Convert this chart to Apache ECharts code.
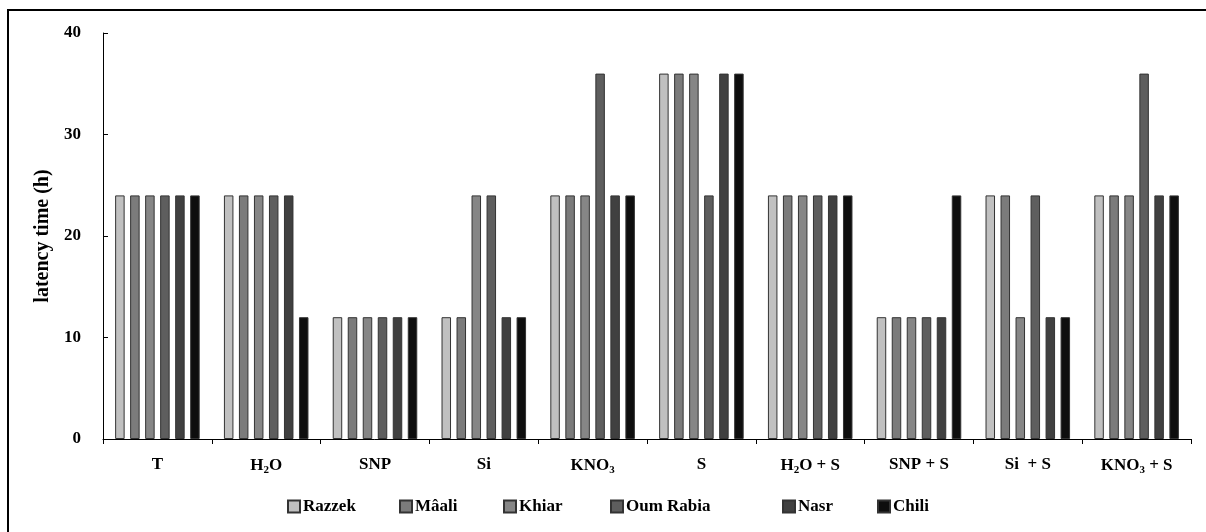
<!DOCTYPE html>
<html>
<head>
<meta charset="utf-8">
<script src="https://cdn.jsdelivr.net/npm/echarts@6/dist/echarts.min.js"></script>
<style>html,body{margin:0;padding:0;background:#fff}#c{width:1206px;height:532px}</style>
</head>
<body>
<div id="c"></div>
<script>
const categories = ['T', 'H2O', 'SNP', 'Si', 'KNO3', 'S', 'H2O + S', 'SNP + S', 'Si  + S', 'KNO3 + S'];
const seriesNames = ['Razzek', 'Mâali', 'Khiar', 'Oum Rabia', 'Nasr', 'Chili'];
const razzek   = [24, 24, 12, 12, 24, 36, 24, 12, 24, 24];
const maali    = [24, 24, 12, 12, 24, 36, 24, 12, 24, 24];
const khiar    = [24, 24, 12, 24, 24, 36, 24, 12, 12, 24];
const oumRabia = [24, 24, 12, 24, 36, 24, 24, 12, 24, 36];
const nasr     = [24, 24, 12, 12, 24, 36, 24, 12, 12, 24];
const chili    = [24, 12, 12, 12, 24, 36, 24, 24, 12, 24];
const yTicks = [0, 10, 20, 30, 40];

const values = [razzek, maali, khiar, oumRabia, nasr, chili];
const colors = ['#c0c0c0', '#7b7b7b', '#868686', '#5e5e5e', '#404040', '#0e0e0e'];
const legendLeft = [287, 399, 503, 610, 782, 877];
const FONT = '"Liberation Serif", "Times New Roman", serif';

const chart = echarts.init(document.getElementById('c'));
chart.setOption({
  backgroundColor: '#fff',
  animation: false,
  graphic: [{
    type: 'rect',
    shape: { x: 8, y: 10, width: 1400, height: 700 },
    style: { fill: 'none', stroke: '#000', lineWidth: 2 },
    silent: true
  }],
  legend: seriesNames.map((n, i) => ({
    data: [n],
    left: legendLeft[i],
    top: 498,
    padding: 0,
    itemWidth: 12,
    itemHeight: 12,
    itemGap: 4,
    icon: 'rect',
    textStyle: { fontFamily: FONT, fontWeight: 'bold', fontSize: 17, color: '#000', padding: [0, 0, 0, -2] }
  })),
  grid: { left: 103, right: 15, top: 33, bottom: 93, containLabel: false },
  xAxis: {
    type: 'category',
    data: categories,
    axisLine: { lineStyle: { color: '#000', width: 1 } },
    axisTick: { show: true, length: 5, lineStyle: { color: '#000' } },
    axisLabel: {
      margin: 17,
      fontFamily: FONT,
      fontWeight: 'bold',
      fontSize: 17,
      color: '#000',
      interval: 0,
      formatter: v => v.replace(/([A-Za-z])(\d)/g, '$1{s|$2}'),
      rich: {
        s: { fontFamily: FONT, fontWeight: 'bold', fontSize: 11, color: '#000', padding: [9, 0, 0, 0] }
      }
    }
  },
  yAxis: {
    type: 'value',
    min: 0,
    max: 40,
    interval: 10,
    name: 'latency time (h)',
    nameLocation: 'middle',
    nameGap: 48,
    nameTextStyle: { fontFamily: FONT, fontWeight: 'bold', fontSize: 20, color: '#000' },
    splitLine: { show: false },
    axisLine: { show: true, lineStyle: { color: '#000', width: 1 } },
    axisTick: { show: true, inside: true, length: 5, lineStyle: { color: '#000' } },
    axisLabel: {
      margin: 22,
      fontFamily: FONT,
      fontWeight: 'bold',
      fontSize: 17,
      color: '#000',
      customValues: yTicks
    }
  },
  series: seriesNames.map((n, i) => ({
    name: n,
    type: 'bar',
    data: values[i],
    barWidth: 9.5,
    barGap: '58%',
    itemStyle: { color: colors[i], borderColor: '#333', borderWidth: 1 }
  }))
});
</script>
</body>
</html>
